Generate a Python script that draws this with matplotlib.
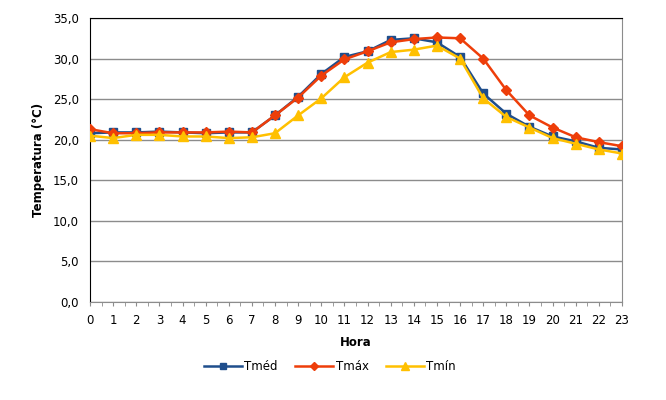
import matplotlib
matplotlib.use("Agg")
import matplotlib.pyplot as plt
from matplotlib.ticker import FuncFormatter, MultipleLocator

# horas do dia e temperaturas
horas = list(range(24))
tmed = [20.8, 20.9, 20.9, 21.0, 20.9, 20.8, 20.9, 20.9, 23.0, 25.3, 28.1, 30.2,
        30.9, 32.3, 32.5, 32.0, 30.2, 25.7, 23.2, 21.6, 20.4, 19.8, 19.0, 18.8]
tmax = [21.3, 20.8, 20.8, 20.9, 20.9, 20.9, 21.0, 20.9, 23.0, 25.2, 27.9, 29.9,
        30.9, 32.0, 32.4, 32.6, 32.5, 30.0, 26.1, 23.0, 21.5, 20.3, 19.7, 19.2]
tmin = [20.5, 20.2, 20.6, 20.6, 20.4, 20.4, 20.2, 20.3, 20.8, 23.0, 25.1, 27.7,
        29.5, 30.8, 31.1, 31.6, 30.0, 25.1, 22.8, 21.5, 20.2, 19.5, 18.8, 18.3]

fig = plt.figure(figsize=(6.66, 4.0), dpi=100)
ax = fig.add_axes([90 / 666, 98 / 400, 532 / 666, 284 / 400])

ax.plot(horas, tmed, color="#1F4E8C", lw=1.8, marker="s", ms=6, label="Tméd", zorder=3)
ax.plot(horas, tmax, color="#EE3E0A", lw=1.8, marker="D", ms=5.5, label="Tmáx", zorder=4)
ax.plot(horas, tmin, color="#FFC000", lw=1.8, marker="^", ms=7, label="Tmín", zorder=5)

ax.set_xlim(0, 23)
ax.set_ylim(0, 35)
ax.set_xticks(horas)
ax.xaxis.set_minor_locator(MultipleLocator(0.5))
ax.yaxis.set_major_locator(MultipleLocator(5))
ax.yaxis.set_major_formatter(FuncFormatter(lambda v, p: f"{v:.1f}".replace(".", ",")))

ax.grid(axis="y", color="#8C8C8C", lw=1)
ax.set_axisbelow(True)
ax.spines["left"].set_color("black")
ax.spines["top"].set_color("black")
ax.spines["right"].set_color("#8C8C8C")
ax.spines["bottom"].set_color("#8C8C8C")
ax.tick_params(axis="x", which="both", length=3, color="#8C8C8C", labelsize=8.5, pad=6)
ax.tick_params(axis="x", which="minor", labelbottom=False)
ax.tick_params(axis="y", length=0, labelsize=8.5, pad=8)

ax.set_xlabel("Hora", fontsize=8.5, fontweight="bold", labelpad=6)
ax.set_ylabel("Temperatura (°C)", fontsize=8.5, fontweight="bold", labelpad=6)

fig.legend(loc="center", bbox_to_anchor=(330 / 666, 1 - 367 / 400), ncol=3,
           frameon=False, fontsize=8.5, handlelength=3.2, columnspacing=1.5,
           handletextpad=0.2, markerscale=0.8)

fig.savefig("out.png", dpi=100)
